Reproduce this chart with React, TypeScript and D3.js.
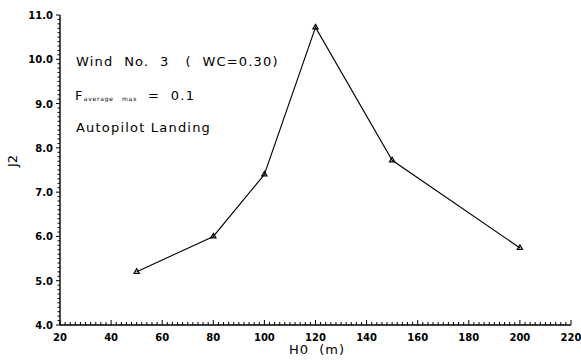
import React from "react";
import * as d3 from "d3";

const h0Values = [50, 80, 100, 120, 150, 200];
const j2Values = [5.2, 6.0, 7.4, 10.72, 7.72, 5.74];
const xTickValues = [20, 40, 60, 80, 100, 120, 140, 160, 180, 200, 220];
const yTickValues = [4, 5, 6, 7, 8, 9, 10, 11];
const annotationLines = ["Wind No. 3  ( WC=0.30)", "Autopilot Landing"];

const W = 581;
const H = 360;
const x = d3.scaleLinear().domain([20, 220]).range([60, 571]);
const y = d3.scaleLinear().domain([4, 11]).range([325, 15]);

export default function App() {
  const pts = h0Values.map((v, i) => [x(v), y(j2Values[i])] as [number, number]);
  const line = d3.line()(pts) || "";
  const xMinor = d3.range(20, 221, 2);
  const yMinor = d3.range(40, 111, 1).map((v) => v / 10);
  const font = "'DejaVu Sans', sans-serif";
  const tri = d3.symbol().type(d3.symbolTriangle).size(12)() || "";
  const pre = { whiteSpace: "pre" as const };
  return (
    <svg
      width={W}
      height={H}
      style={{ position: "absolute", left: 0, top: 0, background: "#fff" }}
    >
      <g stroke="#000" fill="none" strokeWidth={1.4}>
        <line x1={x(20)} x2={x(220)} y1={y(4)} y2={y(4)} />
        <line x1={x(20)} x2={x(20)} y1={y(4)} y2={y(11)} />
        {xMinor.map((v) => (
          <line
            key={"xm" + v}
            x1={x(v)}
            x2={x(v)}
            y1={y(4)}
            y2={y(4) - (v % 20 === 0 ? 5 : 3)}
            strokeWidth={1}
          />
        ))}
        {yMinor.map((v) => (
          <line
            key={"ym" + v}
            x1={x(20) - (Math.abs(v - Math.round(v)) < 1e-6 ? 4 : 2.5)}
            x2={x(20)}
            y1={y(v)}
            y2={y(v)}
            strokeWidth={1}
          />
        ))}
      </g>
      <g fontFamily={font} fontSize={10} fontWeight="bold" fill="#000">
        {xTickValues.map((v) => (
          <text key={"xt" + v} x={x(v)} y={341} textAnchor="middle">
            {v}
          </text>
        ))}
        {yTickValues.map((v) => (
          <text key={"yt" + v} x={53} y={y(v) + 4} textAnchor="end">
            {v.toFixed(1)}
          </text>
        ))}
      </g>
      <text
        x={317}
        y={354}
        textAnchor="middle"
        fontFamily={font}
        fontSize={13}
        letterSpacing={1}
        fill="#000"
        style={pre}
      >
        {"H0  (m)"}
      </text>
      <text
        transform="translate(17,161) rotate(-90)"
        textAnchor="middle"
        fontFamily={font}
        fontSize={13}
        fill="#000"
      >
        J2
      </text>
      <path d={line} stroke="#000" strokeWidth={1.1} fill="none" />
      {pts.map((p, i) => (
        <path
          key={"m" + i}
          d={tri}
          transform={`translate(${p[0]},${p[1]})`}
          fill="none"
          stroke="#000"
          strokeWidth={1.2}
        />
      ))}
      <g fontFamily={font} fontSize={13} fill="#000" letterSpacing={1.2} style={pre}>
        <text x={76} y={66} style={pre}>
          {"Wind  No.  3   (  WC=0.30)"}
        </text>
        <text x={75} y={100} style={pre}>
          F
          <tspan fontSize={6} dy={1} letterSpacing={0.8}>
            {"average   max"}
          </tspan>
          <tspan dy={-1}>{"  =  0.1"}</tspan>
        </text>
        <text x={76} y={132}>
          {annotationLines[1]}
        </text>
      </g>
    </svg>
  );
}
